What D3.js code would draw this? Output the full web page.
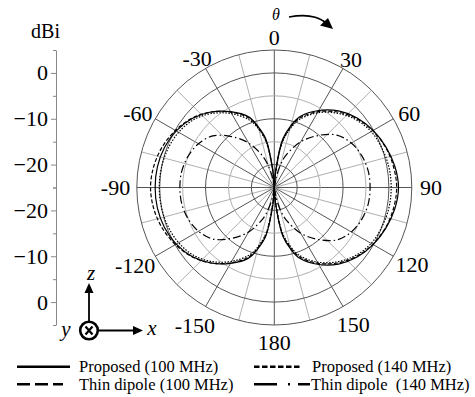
<!DOCTYPE html>
<html><head><meta charset="utf-8">
<script src="https://cdn.jsdelivr.net/npm/d3@7"></script>
<style>
html,body{margin:0;padding:0;background:#fff;}
svg{display:block;}
svg text{font-family:'Liberation Serif','Times New Roman',Times,'DejaVu Serif','Noto Serif',FreeSerif,serif;}
</style></head><body>
<svg id="chart" width="475" height="397"></svg>
<script>
// Elevation angle theta (degrees) at which gain is sampled
const angles = [-180,-175,-170,-165,-160,-150,-140,-130,-120,-110,-100,-90,-80,-70,-60,-50,-40,-30,-20,-15,-10,-5,
                0,5,10,15,20,30,40,50,60,70,80,90,100,110,120,130,140,150,160,165,170,175,180];

// Gain in dBi for each series, one value per angle above
const proposed100 = [-30,-21,-14.2,-11.2,-8.6,-5.9,-3.5,-1.6,-0.3,0.5,0.9,1.0,0.9,0.5,-0.3,-1.6,-3.5,-5.9,-8.6,-11.2,-14.2,-21,
                     -30,-21,-14.2,-11,-8.5,-5.6,-3.2,-1.4,-0.1,0.9,1.7,2.1,1.7,0.9,-0.1,-1.4,-3.2,-5.6,-8.5,-11,-14.2,-21,-30];
const proposed140 = [-30,-22,-15,-11.8,-9.4,-6.4,-3.9,-2.0,-0.9,-0.3,0.0,0.1,0.0,-0.3,-0.9,-2.0,-3.9,-6.4,-9.4,-11.8,-15,-22,
                     -30,-22,-15,-11.8,-9.3,-6.2,-3.8,-1.9,-0.6,0.0,0.4,0.5,0.4,0.0,-0.6,-1.9,-3.8,-6.2,-9.3,-11.8,-15,-22,-30];
const dipole100   = [-30,-21.5,-14.7,-11.5,-8.9,-6.0,-3.5,-1.5,-0.1,1.0,1.7,2.0,1.7,1.0,-0.1,-1.5,-3.5,-6.0,-8.9,-11.5,-14.7,-21.5,
                     -30,-21.5,-14.7,-11.5,-8.9,-5.9,-3.5,-1.6,-0.2,0.8,1.4,1.7,1.4,0.8,-0.2,-1.6,-3.5,-5.9,-8.9,-11.5,-14.7,-21.5,-30];
const dipole140   = [-30,-26,-23,-20.3,-17.8,-13.8,-10.5,-7.5,-5.9,-5.0,-4.5,-4.4,-4.5,-5.0,-5.9,-7.5,-10.5,-13.8,-17.8,-20.3,-23,-26,
                     -30,-26,-23,-20,-17.5,-13.5,-10.2,-7.2,-5.6,-4.7,-4.2,-4.1,-4.2,-4.7,-5.6,-7.2,-10.2,-13.5,-17.5,-20,-23,-26,-30];

const seriesNames = ["Proposed (100 MHz)", "Proposed (140 MHz)", "Thin dipole (100 MHz)", "Thin dipole\u00a0 (140 MHz)"];

// Polar grid and tick labels
const angleTicks = [0,30,60,90,120,150,180,-150,-120,-90,-60,-30];
const gridMajorDb = [-20,-10,0,5];
const gridMinorDb = [-15,-5];
const axisLabelDb = [0,-10,-20];
const axisMinorDb = [5,-5,-15,-25];

const FONT = "'Liberation Serif', 'Times New Roman', Times, 'DejaVu Serif', 'Noto Serif', FreeSerif, serif";
const svg = d3.select("#chart");
const cx = 274.3, cy = 187.5, R = 137.5;
const r = d3.scaleLinear().domain([-25,5]).range([0,R]).clamp(true);
const rad = d => d * Math.PI / 180;

const g = svg.append("g").attr("transform", `translate(${cx},${cy})`);

// light spokes every 30 deg offset by 15, dark spokes every 30 deg
const spokes = d3.range(0,360,15);
g.selectAll("line.spoke").data(spokes).join("line")
  .attr("x1",0).attr("y1",0)
  .attr("x2", d => R*Math.sin(rad(d))).attr("y2", d => -R*Math.cos(rad(d)))
  .attr("stroke", d => d % 30 === 0 ? "#555" : "#b0b0b0")
  .attr("stroke-width", 1);

g.selectAll("circle.minor").data(gridMinorDb).join("circle")
  .attr("r", d => r(d)).attr("fill","none").attr("stroke","#b0b0b0").attr("stroke-width",1);
g.selectAll("circle.major").data(gridMajorDb).join("circle")
  .attr("r", d => r(d)).attr("fill","none").attr("stroke","#555").attr("stroke-width",1);

// angle labels: pushed outward by part of their width at the sides
const angLabels = g.selectAll("text.ang").data(angleTicks).join("text")
  .attr("font-family", FONT)
  .attr("text-anchor","middle").attr("dominant-baseline","central")
  .attr("font-size", 22).attr("fill","#000")
  .text(d => d);
angLabels.each(function(d) {
  const w = this.getComputedTextLength();
  const s = Math.sin(rad(d)), c = Math.cos(rad(d));
  const rr = 150 + 0.3 * w * Math.abs(s) + 5 * Math.pow(Math.max(0, -c), 4);
  let dy = 0;
  if (c > 0.1) dy = 5 * Math.abs(Math.sin(rad(2*d)));
  else if (Math.abs(Math.abs(d) - 120) < 1) dy = -2;
  d3.select(this).attr("x", rr*s).attr("y", -rr*c + dy);
});

// pattern curves
const series = [
  {vals: proposed100, dash: null},
  {vals: proposed140, dash: "1.5,1.5"},
  {vals: dipole100,   dash: "4,2"},
  {vals: dipole140,   dash: "8,3,1.5,3"}
];
const line = d3.lineRadial()
  .angle((d,i) => rad(angles[i]))
  .radius(d => r(d))
  .curve(d3.curveCatmullRom.alpha(0.5));
g.selectAll("path.curve").data(series).join("path")
  .attr("d", d => line(d.vals))
  .attr("fill","none").attr("stroke","#000").attr("stroke-width",1.2)
  .attr("stroke-dasharray", d => d.dash);

// left dBi axis, mirrored above and below the centre
const axX = 56;
const yTop = d3.scaleLinear().domain([-25,5]).range([cy, cy-R]);
const yBot = d3.scaleLinear().domain([-25,5]).range([cy, cy+R]);
[yTop, yBot].forEach(sc => {
  const ax = svg.append("g").attr("transform", `translate(${axX},0)`);
  ax.call(d3.axisLeft(sc).tickValues(axisLabelDb).tickSize(5).tickSizeOuter(0).tickPadding(3).tickFormat(d3.format("d")));
  ax.attr("font-family", FONT);
  ax.select(".domain").attr("stroke","#888");
  ax.selectAll(".tick line").attr("stroke","#888");
  ax.selectAll(".tick text").attr("font-size",22).attr("font-family",FONT).attr("fill","#000");
  const axm = svg.append("g").attr("transform", `translate(${axX},0)`);
  axm.call(d3.axisLeft(sc).tickValues(axisMinorDb).tickSize(3).tickSizeOuter(0).tickFormat(""));
  axm.select(".domain").remove();
  axm.selectAll(".tick line").attr("stroke","#888");
});
svg.append("text").attr("x",45.5).attr("y",38).attr("text-anchor","middle")
  .attr("font-family",FONT).attr("font-size",20).text("dBi");

// theta direction arrow
svg.append("text").attr("x",276).attr("y",20).attr("text-anchor","middle")
  .attr("font-family",FONT).attr("font-size",16).attr("font-style","italic").text("θ");
svg.append("path").attr("d","M289,17 C305,14 317,16 325,22")
  .attr("fill","none").attr("stroke","#000").attr("stroke-width",1.6);
svg.append("path").attr("d","M333,29 L320,25.5 L328,18 Z").attr("fill","#000");

// coordinate inset
const ins = svg.append("g");
ins.append("line").attr("x1",89).attr("y1",321).attr("x2",89).attr("y2",292)
  .attr("stroke","#000").attr("stroke-width",1.8);
ins.append("path").attr("d","M89,283 L84.5,293 L93.5,293 Z").attr("fill","#000");
ins.append("line").attr("x1",98.5).attr("y1",330.5).attr("x2",133).attr("y2",330.5)
  .attr("stroke","#000").attr("stroke-width",1.8);
ins.append("path").attr("d","M143,330.5 L133,326 L133,335 Z").attr("fill","#000");
ins.append("circle").attr("cx",89).attr("cy",330.5).attr("r",8.8)
  .attr("fill","#fff").attr("stroke","#000").attr("stroke-width",2.6);
ins.append("path").attr("d","M85.5,326.5 L92.5,334.5 M92.5,326.5 L85.5,334.5")
  .attr("stroke","#000").attr("stroke-width",2.2);
ins.append("text").attr("x",91).attr("y",280).attr("text-anchor","middle")
  .attr("font-family",FONT).attr("font-size",21).attr("font-style","italic").text("z");
ins.append("text").attr("x",152).attr("y",335).attr("text-anchor","middle")
  .attr("font-family",FONT).attr("font-size",21).attr("font-style","italic").text("x");
ins.append("text").attr("x",66).attr("y",336).attr("text-anchor","middle")
  .attr("font-family",FONT).attr("font-size",21).attr("font-style","italic").text("y");

// legend
const legend = [
  {x1:17, x2:70,  y:366.7, tx:79,  dash:null},
  {x1:254,x2:302, y:366.7, tx:312, dash:"5.5,2.5"},
  {x1:17, x2:63,  y:384.3, tx:79,  dash:"13,5"},
  {x1:254,x2:310, y:384.3, tx:311, dash:"23,11,2,8,30"}
];
const lg = svg.append("g").selectAll("g").data(legend).join("g");
lg.append("line").attr("x1",d=>d.x1).attr("x2",d=>d.x2).attr("y1",d=>d.y).attr("y2",d=>d.y)
  .attr("stroke","#000").attr("stroke-width",2.6).attr("stroke-dasharray",d=>d.dash);
lg.append("text").attr("x",d=>d.tx).attr("y",d=>d.y+5.5)
  .attr("font-family",FONT).attr("font-size",16.5)
  .text((d,i)=>seriesNames[i]);
</script>
</body></html>
